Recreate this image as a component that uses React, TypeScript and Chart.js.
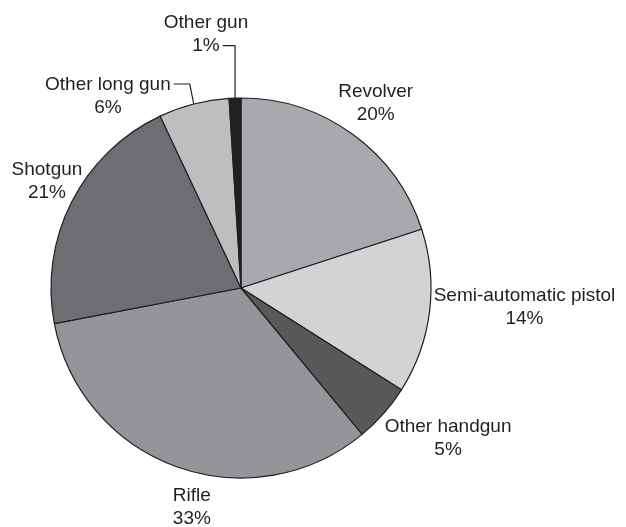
import React, { useEffect, useRef } from "react";
import { Chart, registerables } from "chart.js";

Chart.register(...registerables);

// Categories, in clockwise order from 12 o'clock
const categories = [
  "Revolver",
  "Semi-automatic pistol",
  "Other handgun",
  "Rifle",
  "Shotgun",
  "Other long gun",
  "Other gun",
];

// Share of each category (%)
const shares = [20, 14, 5, 33, 21, 6, 1];

// Slice fills
const sliceColors = [
  "#a7a9ac",
  "#d1d3d4",
  "#58595b",
  "#939598",
  "#6d6e71",
  "#bcbec0",
  "#231f20",
];

// Label placement: angular shift from the slice's mid-angle (deg) and distance as a fraction of the radius
const labelShiftDeg = [-0.1, -3.55, -5.7, -7.1, 2.2, -20.2, -6.0];
const labelDistance = [1.209, 1.495, 1.342, 1.177, 1.17, 1.234, 1.357];
// Leader lines: none, from the first line, or from the second line of the label
const labelLeader = ["none", "none", "none", "none", "none", "line1", "line2"];

const INK = "#231f20";
const FONT = '19px "Liberation Sans", Arial, sans-serif';

const labelPlugin = {
  id: "sliceLabels",
  afterDatasetsDraw(chart: any) {
    const ctx = chart.ctx as CanvasRenderingContext2D;
    const meta = chart.getDatasetMeta(0);
    ctx.save();
    ctx.font = FONT;
    ctx.fillStyle = INK;
    ctx.strokeStyle = INK;
    ctx.lineWidth = 1.2;
    ctx.textAlign = "center";
    ctx.textBaseline = "alphabetic";
    meta.data.forEach((arc: any, i: number) => {
      const { x, y, startAngle, endAngle, outerRadius } = arc.getProps(
        ["x", "y", "startAngle", "endAngle", "outerRadius"],
        true
      );
      const mid = (startAngle + endAngle) / 2;
      const a = mid + (labelShiftDeg[i] * Math.PI) / 180;
      const lx = x + Math.cos(a) * labelDistance[i] * outerRadius;
      const ly = y + Math.sin(a) * labelDistance[i] * outerRadius;
      const b1 = ly - 5;
      const b2 = b1 + 23;
      const line1 = categories[i];
      const line2 = `${shares[i]}%`;
      ctx.fillText(line1, lx, b1);
      ctx.fillText(line2, lx, b2);

      const ex = x + Math.cos(mid) * outerRadius;
      const ey = y + Math.sin(mid) * outerRadius;
      if (labelLeader[i] === "line1") {
        const tr = lx + ctx.measureText(line1).width / 2;
        const hy = b1 - 6;
        ctx.beginPath();
        ctx.moveTo(tr + 3, hy);
        ctx.lineTo(ex - 4, hy);
        ctx.lineTo(ex, ey);
        ctx.stroke();
      } else if (labelLeader[i] === "line2") {
        const tr = lx + ctx.measureText(line2).width / 2;
        const hy = b2 - 5;
        ctx.beginPath();
        ctx.moveTo(tr + 3, hy);
        ctx.lineTo(ex, hy);
        ctx.lineTo(ex, ey);
        ctx.stroke();
      }
    });
    ctx.restore();
  },
};

export default function App() {
  const canvasRef = useRef<HTMLCanvasElement | null>(null);

  useEffect(() => {
    if (!canvasRef.current) return;
    const chart = new Chart(canvasRef.current, {
      type: "pie",
      data: {
        labels: categories,
        datasets: [
          {
            data: shares,
            backgroundColor: sliceColors,
            borderColor: INK,
            borderWidth: 1.2,
            hoverOffset: 0,
            offset: 0,
            radius: 190,
          } as any,
        ],
      },
      options: {
        responsive: false,
        animation: false,
        events: [],
        layout: { padding: { left: 51, right: 195, top: 98, bottom: 49 } },
        plugins: {
          legend: { display: false },
          tooltip: { enabled: false },
          title: { display: false },
        },
      },
      plugins: [labelPlugin],
    });
    return () => chart.destroy();
  }, []);

  return (
    <div
      style={{
        position: "fixed",
        left: 0,
        top: 0,
        width: 626,
        height: 527,
        background: "#ffffff",
      }}
    >
      <canvas
        ref={canvasRef}
        width={626}
        height={527}
        style={{ width: 626, height: 527, display: "block" }}
      />
    </div>
  );
}
